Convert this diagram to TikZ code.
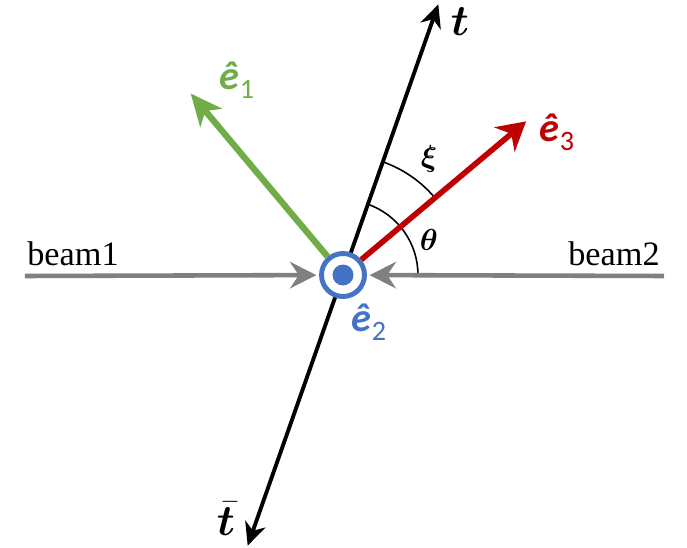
\documentclass[tikz,border=0pt]{standalone}
\usepackage{fontspec}
\setmainfont{Liberation Serif}
\newfontfamily\vecfont{Carlito}
\usepackage{bm}
\usetikzlibrary{arrows.meta}
\definecolor{axisgreen}{HTML}{70AD47}
\definecolor{axisred}{HTML}{C00000}
\definecolor{axisblue}{HTML}{4472C4}
\definecolor{beamgray}{HTML}{808080}
\newcommand{\unitvec}[1]{{\vecfont\bfseries\itshape ê}\raisebox{-0.5ex}{\vecfont\fontsize{16}{16}\selectfont #1}}

\begin{document}
\begin{tikzpicture}[>=Stealth, x=0.02cm, y=0.02cm,
  beamline/.style={draw=beamgray, line width=2.6pt,
    -{Stealth[length=15pt, width=15pt, inset=5pt]}, shorten >=1.5pt},
  anglearc/.style={draw=black, line width=0.9pt},
  veclabel/.style={font=\fontsize{23}{26}\selectfont},
  mathlabel/.style={font=\fontsize{18}{20}\selectfont}]
  \useasboundingbox (-343,-273) rectangle (344,275);

  % t axis
  \coordinate (tTop) at (70.6:287);
  \coordinate (tBot) at (250.6:287);
  \draw[line width=2.2pt, {Stealth[length=13pt, width=12pt, inset=4pt]}-{Stealth[length=13pt, width=12pt, inset=4pt]}]
    (tBot) -- (tTop);
  \node[font=\fontsize{24}{26}\selectfont] (lblT) at (117,253) {$\bm{t}$};
  \node[font=\fontsize{24}{26}\selectfont] (lblTbar) at (-117,-244) {$\bar{\bm{t}}$};

  % e2 out of the plane
  \node[circle, draw=axisblue, fill=white, line width=2.8pt,
    minimum size=0.86cm, inner sep=0pt] (O) at (0,0) {};
  \fill[axisblue] (O.center) circle (0.21cm);
  \node[veclabel, text=axisblue] (lblE2) at (26,-47) {\unitvec{2}};

  % angles
  \draw[anglearc] ([shift={(0:1.5cm)}]O.center) arc[start angle=0, end angle=70.6, radius=1.5cm];
  \draw[anglearc] ([shift={(40:2.4cm)}]O.center) arc[start angle=40, end angle=70.6, radius=2.4cm];
  \node[mathlabel] (lblTheta) at (86,35) {$\bm{\theta}$};
  \node[mathlabel] (lblXi) at (86,116) {$\bm{\xi}$};

  % e1 and e3
  \coordinate (e1Tip) at (130:237);
  \coordinate (e3Tip) at (40:239);
  \draw[axisgreen, line width=3.6pt, -{Stealth[length=18pt, width=16pt, inset=5pt]}]
    (O) -- (e1Tip);
  \draw[axisred, line width=3.2pt, -{Stealth[length=16pt, width=18pt, inset=5pt]}]
    (O) -- (e3Tip);
  \node[veclabel, text=axisgreen] (lblE1) at (-106,195) {\unitvec{1}};
  \node[veclabel, text=axisred] (lblE3) at (214,143) {\unitvec{3}};

  % beams
  \coordinate (b1) at (-318,-1);
  \coordinate (b2) at (321,-1);
  \draw[beamline] (b1) -- (O);
  \draw[beamline] (b2) -- (O);
  \node[font=\fontsize{19.5}{21}\selectfont, anchor=base west, inner sep=0pt] (lblB1) at (-316,9) {beam1};
  \node[font=\fontsize{19.5}{21}\selectfont, anchor=base east, inner sep=0pt] (lblB2) at (317,9) {beam2};
\end{tikzpicture}
\end{document}
